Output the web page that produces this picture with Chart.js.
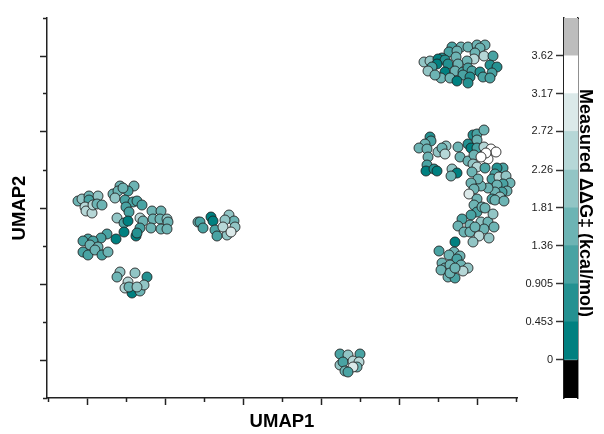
<!DOCTYPE html>
<html><head><meta charset="utf-8">
<style>html,body{margin:0;padding:0;background:#fff}#w{position:relative;width:604px;height:434px}
canvas{position:absolute;top:0}</style>
<script src="https://cdn.jsdelivr.net/npm/chart.js@4/dist/chart.umd.js"></script></head>
<body><div id="w"><canvas id="a" style="left:0;width:604px;height:434px"></canvas><canvas id="b" style="left:500px;width:104px;height:434px"></canvas></div>
<script>
const xMajorTicks=[0,7.8,15.6,23.4,31.2,39.0];
const xMinorTicks=[-3.9,3.9,11.7,19.5,27.3,35.1,42.9];
const yMajorTicks=[0,7.6,15.2,22.8,30.4];
const yMinorTicks=[-3.8,3.8,11.4,19.0,26.6,34.2];
const cbTickLabels=['0','0.453','0.905','1.36','1.81','2.26','2.72','3.17','3.62'];
const cbTickValues=[0,0.453,0.905,1.36,1.81,2.26,2.72,3.17,3.62];
const cbEdges=[-0.453,0,0.453,0.905,1.36,1.81,2.26,2.72,3.17,3.62,4.07];
const cbColors=['#000000','#008080','#249191','#49a3a3','#6db4b4','#92c5c5','#b6d7d7','#dbe9e9','#ffffff','#bdbdbd'];

const ax=[-0.9,-0.5,0.2,0.2,1.1,-0.2,-0.1,0.5,0.6,1.0,1.5];
const ay=[15.9,16.1,16.4,16.0,16.4,15.3,14.9,14.7,15.5,15.6,15.5];
const av=[1.6,2.0,1.5,1.1,2.1,2.4,2.6,2.3,2.7,1.6,1.5];
const bx=[3.3,4.7,2.6,3.1,4.1,3.6,2.8,3.8,4.6,5.0,5.5,3.9,4.2];
const by=[17.4,17.4,16.6,16.9,16.9,17.2,16.2,16.0,15.8,15.9,15.5,15.3,14.8];
const bv=[1.5,1.4,1.6,1.7,1.2,1.4,2.0,1.0,1.1,1.2,1.1,1.2,1.2];
const cx=[3.0,3.7,4.1,3.7,2.9,5.3,5.6,5.3,4.9,5.0,6.5,7.4,6.6,7.3,6.4,8.0,8.1,7.4,8.0];
const cy=[14.2,13.7,13.9,12.8,12.1,14.2,13.9,13.2,12.4,12.7,14.9,14.9,14.1,14.1,13.2,14.1,13.8,13.1,13.1];
const cv=[2.0,1.1,0.2,0.2,0.3,2.5,1.6,1.2,0.3,0.7,1.5,1.4,1.6,1.5,1.6,2.0,1.5,1.4,1.5];
const dx=[2.0,1.4,0.1,-0.4,0.6,0.3,1.1,-0.4,0.1,0.8,1.5,2.1];
const dy=[12.6,12.2,12.1,11.9,11.9,11.5,11.3,10.8,10.5,11.0,10.5,10.8];
const dv=[1.0,1.1,1.1,1.1,1.2,1.4,1.6,1.0,1.1,1.5,1.2,1.6];
const ex=[3.3,3.0,4.8,6.0,4.5,4.1,3.8,4.2,5.3,5.7,5.0];
const ey=[8.8,8.3,8.7,8.3,6.7,7.8,7.2,7.3,6.9,7.5,7.3];
const ev=[2.0,1.6,1.9,0.7,0.2,2.4,2.4,1.5,1.6,1.9,2.0];
const fx=[11.1,11.3,11.6,12.4,12.6,14.2,14.7,13.8,14.8,14.0,12.8,13.0,13.6,14.4];
const fy=[13.8,13.8,13.2,14.3,13.9,14.5,13.9,14.0,13.3,12.5,13.0,12.4,13.3,12.8];
const fv=[1.6,1.1,1.2,0.2,0.2,2.0,1.6,2.1,2.0,2.2,1.1,1.2,2.4,2.9];
const gx=[36.5,37.4,38.1,39.0,39.8,36.2,37.0,36.9,39.3,38.8,39.7,38.7,40.6,38.0,33.7,34.3,35.5,35.1,35.8,35.0,34.5,34.1,36.1,37.1,35.8,36.8,37.6,38.1,38.5,40.3,41.0,40.5,39.3,37.6,38.3,39.6,40.3,35.4,36.3,37.0,38.1,34.8];
const gy=[31.3,31.3,31.3,31.5,31.5,30.8,30.9,30.3,31.2,30.7,30.4,30.1,30.4,29.9,29.8,29.9,30.2,30.1,30.0,29.6,29.3,28.9,29.6,29.6,28.8,28.9,28.8,29.2,28.9,29.5,29.3,28.7,28.8,28.5,28.3,28.3,28.2,28.2,28.2,27.9,27.7,28.5];
const gv=[1.1,1.5,1.4,1.6,1.5,1.0,1.5,1.6,1.7,1.5,2.5,2.3,1.2,1.6,2.0,2.1,0.7,0.3,0.6,0.2,1.1,2.0,0.8,1.6,0.2,1.5,1.1,1.2,1.0,0.7,0.6,1.1,0.7,1.0,0.7,1.1,1.0,1.6,1.5,0.2,0.7,1.5];
const hx=[34.3,34.4,33.8,33.2,34.0,34.1,35.1,35.9,35.5,35.8,34.0,33.9,34.7,35.0,36.5,37.0,36.4];
const hy=[22.3,21.9,21.6,21.2,21.1,20.3,20.8,21.4,21.2,20.6,19.5,18.9,19.1,18.9,19.1,18.7,18.4];
const hv=[0.7,1.1,1.5,1.6,1.6,1.5,2.0,2.1,1.5,2.5,1.2,0.2,0.7,0.2,2.0,0.2,1.6];
const ix=[37.1,38.1,38.6,39.0,39.7,39.0,38.4,39.0,39.7,37.3,38.1,38.7,40.4,40.9,40.1,39.9,39.4,38.6,39.0,38.5,39.8];
const iy=[21.3,21.6,22.5,22.6,23.0,22.0,21.2,21.2,21.3,20.3,19.9,20.5,21.1,20.8,20.1,20.7,20.3,19.6,19.3,18.8,19.2];
const iv=[1.6,0.7,0.7,1.1,1.5,1.6,0.2,1.2,2.5,1.5,1.6,1.6,3.4,3.5,3.4,3.5,3.5,2.0,2.4,1.6,1.1];
const jx=[41.6,41.0,40.8,40.5,41.2,41.9,42.3,41.6,41.0,42.0,41.5,40.8,40.1,39.4,39.1,38.4,38.7,38.2,41.3,40.5,40.8,41.7,39.0,38.7,39.0,39.5,39.8];
const jy=[19.2,19.2,18.6,18.1,18.3,18.4,17.7,17.6,17.5,16.9,16.8,16.8,17.2,17.4,18.1,17.7,17.1,16.6,16.3,16.1,16.0,15.9,16.1,15.5,14.8,15.3,15.2];
const jv=[1.0,0.8,1.1,1.0,2.5,2.0,1.6,1.1,1.6,1.5,1.2,1.6,1.4,1.5,1.6,1.5,1.6,2.9,2.0,1.1,1.6,1.5,1.5,1.6,1.1,1.5,1.4];
const kx=[38.4,37.5,37.1,38.3,37.7,38.3,39.4,40.1,40.6,39.7,40.7,38.8,39.2,40.2,38.6];
const ky=[14.5,14.1,13.4,13.5,12.8,12.8,13.8,13.8,14.6,13.1,13.3,13.3,12.4,12.2,11.8];
const kv=[1.1,1.0,1.5,1.6,1.6,1.5,2.0,1.6,2.1,1.5,1.6,1.5,2.4,2.1,2.0];
const lx=[36.8,35.2,36.7,36.2,37.3,35.5,37.0,35.8,35.4,36.3,37.4,38.1,37.6,36.1,36.8,36.3,36.8];
const ly=[11.8,10.9,10.8,10.5,10.4,9.7,10.1,9.2,9.0,9.5,9.5,9.2,8.9,8.3,8.2,8.7,9.2];
const lv=[0.4,1.1,1.6,1.5,1.6,1.5,1.1,1.6,1.5,1.6,1.5,2.0,2.4,1.6,1.1,1.5,1.6];
const mx=[25.3,26.1,27.3,25.3,25.6,26.6,27.2,27.0,26.6,25.8,26.1];
const my=[0.6,0.5,0.6,-0.5,-0.2,-0.1,-0.2,-0.7,-0.7,-1.1,-1.2];
const mv=[1.1,2.0,1.0,2.0,1.1,2.4,2.5,1.6,2.9,1.6,1.0];

const umap1=[...ax,...bx,...cx,...dx,...ex,...fx,...gx,...hx,...ix,...jx,...kx,...lx,...mx];
const umap2=[...ay,...by,...cy,...dy,...ey,...fy,...gy,...hy,...iy,...jy,...ky,...ly,...my];
const ddG=[...av,...bv,...cv,...dv,...ev,...fv,...gv,...hv,...iv,...jv,...kv,...lv,...mv];

function binColor(v){
  for(let i=0;i<cbEdges.length-1;i++){ if(v>=cbEdges[i]&&v<cbEdges[i+1]) return cbColors[i]; }
  return cbColors[cbColors.length-1];
}
const font='"Liberation Sans", Arial, sans-serif';
function setTicks(list){return s=>{s.ticks=list.map(v=>({value:v}));};}

new Chart(document.getElementById('a'),{
  type:'scatter',
  data:{datasets:[{
    data:umap1.map((x,i)=>({x:x,y:umap2[i]})),
    pointRadius:5,pointHoverRadius:5,
    pointBackgroundColor:ddG.map(binColor),
    pointBorderColor:'rgba(30,30,30,0.85)',pointBorderWidth:1
  }]},
  options:{
    responsive:false,animation:false,events:[],
    layout:{padding:{left:0,right:87,top:18,bottom:0}},
    plugins:{legend:{display:false},tooltip:{enabled:false}},
    scales:{
      x:{type:'linear',min:-4.0,max:43.0,position:'bottom',
        afterBuildTicks:setTicks(xMajorTicks),
        afterFit:s=>{s.height=36;},
        grid:{display:true,drawOnChartArea:false,drawTicks:true,tickLength:7,tickColor:'#222',tickWidth:1.5},
        border:{display:true,color:'#222',width:1.5},
        ticks:{callback:()=>'',padding:0,autoSkip:false,maxRotation:0},
        title:{display:true,text:'UMAP1',color:'#000',font:{family:font,size:18.5,weight:'bold'},padding:{top:0,bottom:1}}},
      xm:{type:'linear',min:-4.0,max:43.0,position:{y:-3.8},
        afterBuildTicks:setTicks(xMinorTicks),
        grid:{display:true,drawOnChartArea:false,tickLength:4,tickColor:'#222',tickWidth:1.5},
        border:{display:false},
        ticks:{callback:()=>'',padding:0,autoSkip:false,maxRotation:0}},
      y:{type:'linear',min:-3.8,max:34.2,position:'left',
        afterBuildTicks:setTicks(yMajorTicks),
        afterFit:s=>{s.width=47;},
        grid:{display:true,drawOnChartArea:false,tickLength:7,tickColor:'#222',tickWidth:1.5},
        border:{display:true,color:'#222',width:1.5},
        ticks:{callback:()=>'',padding:0,autoSkip:false},
        title:{display:true,text:'UMAP2',color:'#000',font:{family:font,size:18.5,weight:'bold'},padding:{top:9,bottom:0}}},
      ym:{type:'linear',min:-3.8,max:34.2,position:{x:-4.0},
        afterBuildTicks:setTicks(yMinorTicks),
        grid:{display:true,drawOnChartArea:false,tickLength:4,tickColor:'#222',tickWidth:1.5},
        border:{display:false},
        ticks:{callback:()=>'',padding:0,autoSkip:false}}
    }
  }
});

new Chart(document.getElementById('b'),{
  type:'bar',
  data:{labels:[''],datasets:cbColors.map((c,i)=>({
    data:[[cbEdges[i],cbEdges[i+1]]],backgroundColor:c,borderWidth:0,
    barPercentage:1,categoryPercentage:1,grouped:false
  }))},
  options:{
    responsive:false,animation:false,events:[],
    layout:{padding:{left:0,right:0,top:18,bottom:36}},
    plugins:{legend:{display:false},tooltip:{enabled:false}},
    scales:{
      x:{position:'top',afterFit:s=>{s.height=0;},
        grid:{display:false},border:{display:true,color:'#222',width:1},ticks:{display:false}},
      y:{type:'linear',min:-0.453,max:4.07,position:'left',
        afterBuildTicks:setTicks(cbTickValues),
        afterFit:s=>{s.width=64;},
        grid:{display:true,drawOnChartArea:false,tickLength:8,tickColor:'#333',tickWidth:1.5},
        border:{display:true,color:'#222',width:1.5},
        ticks:{autoSkip:false,padding:3,color:'#222',font:{family:font,size:11},
          callback:(v,i)=>cbTickLabels[i]}},
      yr:{type:'linear',min:-0.453,max:4.07,position:'right',
        afterFit:s=>{s.width=26;},
        grid:{display:false},
        border:{display:true,color:'#222',width:1.5},
        ticks:{display:false},
        title:{display:true,text:'Measured \u0394\u0394G\u2021 (kcal/mol)\u00a0\u00a0',color:'#000',
          font:{family:font,size:18,weight:'bold'},padding:{top:8,bottom:0}}}
    }
  }
});
</script></body></html>
